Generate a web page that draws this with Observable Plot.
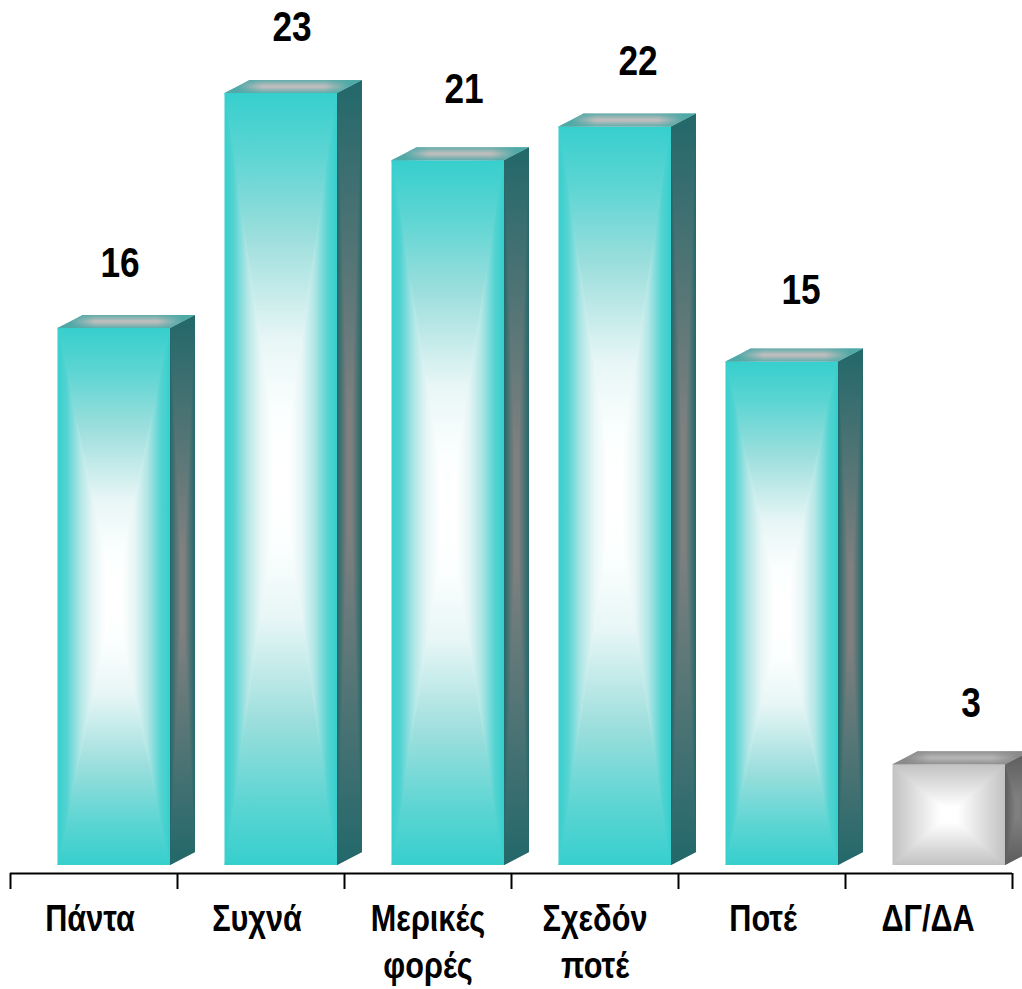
<!DOCTYPE html>
<html><head><meta charset="utf-8">
<style>html,body{margin:0;padding:0;background:#fff}svg{display:block}</style>
<script src="https://cdn.jsdelivr.net/npm/d3@7"></script>
<script src="https://cdn.jsdelivr.net/npm/@observablehq/plot@0.6"></script>
</head><body><div id="chart"></div>
<script>
const categories = ["Πάντα", "Συχνά", "Μερικές\nφορές", "Σχεδόν\nποτέ", "Ποτέ", "ΔΓ/ΔΑ"];
const values = [16, 23, 21, 22, 15, 3];
const palette = ["teal", "teal", "teal", "teal", "teal", "gray"];

// layout constants (pixels), kept apart from the data
const valueDx = [26, 31, 36, 43, 39, 42];
const valueDy = [-65, -66, -71, -66, -72, -62];
const labelDx = [-4, -4, 0, 0, 1, -1];
const step = 167, inL = 47.5, inR = 7, depthX = 25, depthY = 13;

// shading stops: h = from the side edges to the centre, v = from top/bottom edges to the centre
const colors = {
  teal: {
    front: {
      h: [[0, "#36cfcd"], [.16, "#52d3d1"], [.4, "#b0e6e5"], [.635, "#e8f6f6"], [.87, "#ffffff"], [1, "#ffffff"]],
      v: [[0, "#36cfcd"], [.16, "#5cd5d3"], [.38, "#9edfdd"], [.64, "#e8f6f6"], [.84, "#fcffff"], [1, "#ffffff"]]
    },
    side: {
      h: [[0, "#22686a"], [.85, "#808080"], [1, "#808080"]],
      v: [[0, "#22686a"], [.85, "#808080"], [1, "#808080"]]
    },
    top: {
      h: [[0, "#4fa9a7"], [.18, "#4fa9a7"], [.55, "#bdbdbd"], [1, "#bdbdbd"]],
      edge: "#4fa9a7"
    }
  },
  gray: {
    front: {
      h: [[0, "#c2c2c2"], [.85, "#ffffff"], [1, "#ffffff"]],
      v: [[0, "#c2c2c2"], [.85, "#ffffff"], [1, "#ffffff"]]
    },
    side: {
      h: [[0, "#5c5c5c"], [.85, "#808080"], [1, "#808080"]],
      v: [[0, "#5c5c5c"], [.85, "#808080"], [1, "#808080"]]
    },
    top: {
      h: [[0, "#8a8a8a"], [.18, "#8a8a8a"], [.55, "#b4b4b4"], [1, "#b4b4b4"]],
      edge: "#8a8a8a"
    }
  }
};
const svgNS = "http://www.w3.org/2000/svg";
function el(name, attrs, parent) {
  const e = document.createElementNS(svgNS, name);
  for (const k in attrs) e.setAttribute(k, attrs[k]);
  if (parent) parent.appendChild(e);
  return e;
}
function gradients() {
  const defs = el("defs", {});
  for (const pal in colors) for (const f in colors[pal]) {
    const {h: hs, v: vs, edge} = colors[pal][f];
    const h = el("linearGradient", {id: `${pal}-${f}-h`, x1: 0, x2: 1, y1: 0, y2: 0}, defs);
    for (const [o, c] of hs) el("stop", {offset: o / 2, "stop-color": c}, h);
    for (const [o, c] of [...hs].reverse()) el("stop", {offset: 1 - o / 2, "stop-color": c}, h);
    if (vs) {
      const t = el("linearGradient", {id: `${pal}-${f}-t`, x1: 0, x2: 0, y1: 0, y2: 1}, defs);
      for (const [o, c] of vs) el("stop", {offset: o, "stop-color": c}, t);
      const b = el("linearGradient", {id: `${pal}-${f}-b`, x1: 0, x2: 0, y1: 1, y2: 0}, defs);
      for (const [o, c] of vs) el("stop", {offset: o, "stop-color": c}, b);
    }
    if (edge) {
      const v = el("linearGradient", {id: `${pal}-${f}-v`, x1: 0, x2: 0, y1: 0, y2: 1}, defs);
      for (const [o, a] of [[0, .85], [.45, 0], [.55, 0], [1, .85]])
        el("stop", {offset: o, "stop-color": edge, "stop-opacity": a}, v);
    }
  }
  return defs;
}
function poly(g, pts, fill) {
  el("polygon", {points: pts.map(p => p.join(",")).join(" "), fill}, g);
}
// a face shaded from a centre point: horizontal base, top and bottom triangles
function face(g, tl, tr, br, bl, id, base) {
  const c = [(tl[0] + br[0]) / 2, (tl[1] + br[1]) / 2];
  if (base) poly(g, [tl, tr, br, bl], `url(#${id}-h)`);
  poly(g, [tl, tr, c], `url(#${id}-t)`);
  poly(g, [bl, br, c], `url(#${id}-b)`);
}
function boxes(index, scales, vals, dims, ctx, next) {
  const g = next(index, scales, vals, dims, ctx);
  for (const i of index) {
    const pal = palette[i];
    const l = scales.x(categories[i]) + inL;
    const r = scales.x(categories[i]) + step - inR;
    const t = scales.y(values[i]), b = scales.y(0);
    face(g, [l, t], [r, t], [r, b], [l, b], `${pal}-front`, false);
    face(g, [r, t], [r + depthX, t - depthY], [r + depthX, b - depthY], [r, b], `${pal}-side`, true);
    const topFace = [[l + depthX, t - depthY], [r + depthX, t - depthY], [r, t], [l, t]];
    poly(g, topFace, `url(#${pal}-top-h)`);
    poly(g, topFace, `url(#${pal}-top-v)`);
  }
  return g;
}
// Arial Bold squeezed horizontally, as in the reference
const squeeze = k => (index, scales, vals, dims, ctx, next) => {
  const g = next(index, scales, vals, dims, ctx);
  g.querySelectorAll("text").forEach(t => {
    t.setAttribute("transform", `${t.getAttribute("transform") || ""} scale(${k},1)`);
  });
  return g;
};
const rows = categories.map((c, i) => ({c, v: values[i], p: palette[i]}));
const font = '"Liberation Sans",Arial,sans-serif';

const chart = Plot.plot({
  width: 1022, height: 989,
  marginLeft: 10, marginRight: 10, marginTop: 93, marginBottom: 124,
  style: {background: "#fff", overflow: "visible"},
  x: {type: "band", domain: categories, padding: 0, axis: null},
  y: {domain: [0, 23], axis: null},
  marks: [
    () => gradients(),
    Plot.barY(rows, {
      x: "c", y: "v",
      fill: d => `url(#${d.p}-front-h)`,
      insetLeft: inL, insetRight: inR,
      render: boxes
    }),
    Plot.ruleY([0], {dy: 8, stroke: "#000", strokeWidth: 2}),
    Plot.ruleX(categories, {x: d => d, dx: -step / 2, y1: -0.238, y2: -0.715, stroke: "#000", strokeWidth: 2}),
    Plot.ruleX(categories.slice(-1), {x: d => d, dx: step / 2, y1: -0.238, y2: -0.715, stroke: "#000", strokeWidth: 2}),
    ...rows.map((d, i) => Plot.text([d], {
      x: "c", y: "v", text: "v", dx: valueDx[i], dy: valueDy[i],
      fontFamily: font, fontWeight: 700, fontSize: 43, fill: "#000", render: squeeze(.82)
    })),
    ...rows.map((d, i) => Plot.text([d], {
      x: "c", y: 0, text: "c", dx: labelDx[i], dy: 33, lineAnchor: "top", lineHeight: 1.27,
      fontFamily: font, fontWeight: 700, fontSize: 36.5, fill: "#000", render: squeeze(.84)
    }))
  ]
});
document.getElementById("chart").appendChild(chart);
</script></body></html>
